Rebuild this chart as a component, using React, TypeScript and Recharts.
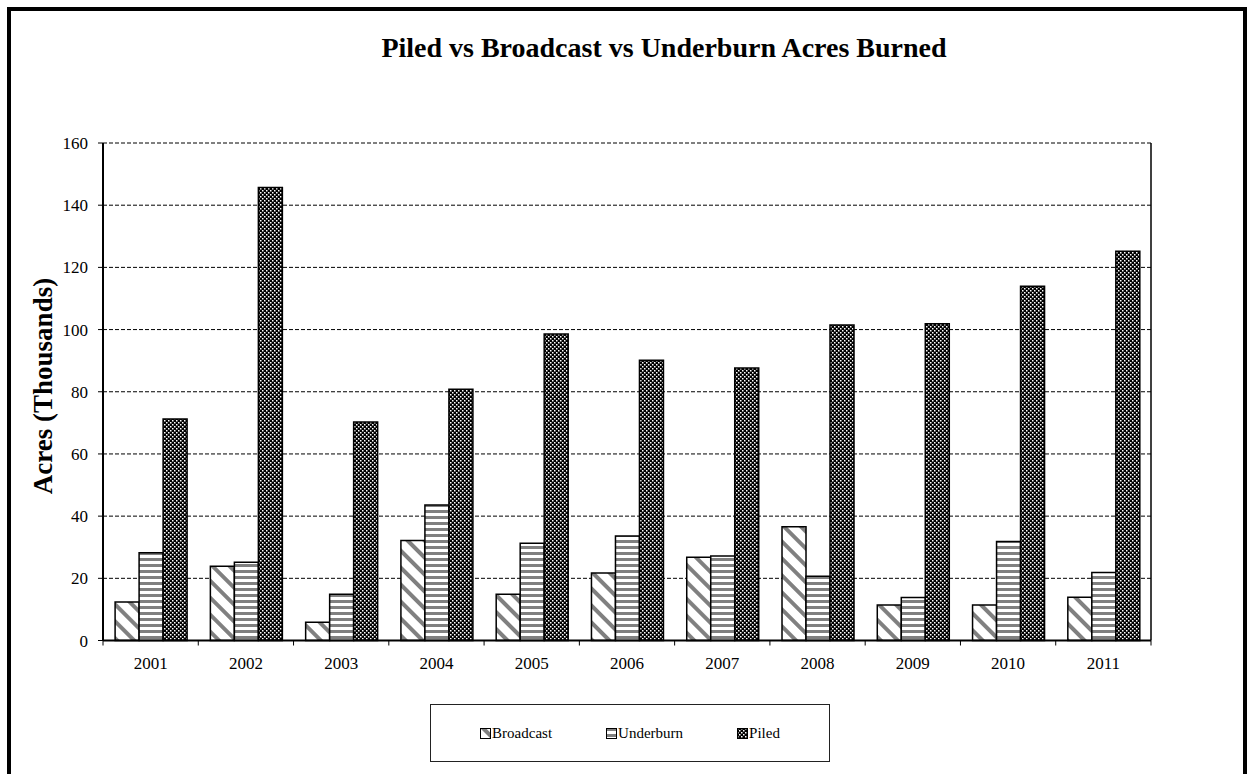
import React from 'react';
import { BarChart, Bar, XAxis, YAxis, CartesianGrid } from 'recharts';

const years = ['2001', '2002', '2003', '2004', '2005', '2006', '2007', '2008', '2009', '2010', '2011'];
const broadcast = [12.4, 23.9, 5.9, 32.2, 14.9, 21.7, 26.8, 36.6, 11.4, 11.4, 13.9];
const underburn = [28.2, 25.2, 14.9, 43.6, 31.3, 33.6, 27.2, 20.7, 13.8, 31.8, 21.9];
const piled = [71.2, 145.7, 70.3, 80.8, 98.6, 90.1, 87.6, 101.5, 101.9, 113.9, 125.2];
const yTicks = [0, 20, 40, 60, 80, 100, 120, 140, 160];

const seriesNames = ['Broadcast', 'Underburn', 'Piled'];
const seriesKeys = ['broadcast', 'underburn', 'piled'];

const data = years.map((year, i) => ({
  year,
  broadcast: broadcast[i],
  underburn: underburn[i],
  piled: piled[i],
}));

const FONT = '"Liberation Serif", "Times New Roman", serif';

const Patterns = ({ prefix }: { prefix: string }) => (
  <defs>
    <pattern id={`${prefix}-diag`} width="12" height="12" patternUnits="userSpaceOnUse" patternTransform="rotate(-45)">
      <rect width="12" height="12" fill="#fff" />
      <rect width="4" height="12" fill="#808080" />
    </pattern>
    <pattern id={`${prefix}-horiz`} width="6" height="6" patternUnits="userSpaceOnUse">
      <rect width="6" height="6" fill="#fff" />
      <rect width="6" height="3" fill="#808080" />
    </pattern>
    <pattern id={`${prefix}-check`} width="4" height="4" patternUnits="userSpaceOnUse">
      <rect width="4" height="4" fill="#000" />
      <rect x="0" y="0" width="1.5" height="1.5" fill="#fff" />
      <rect x="2" y="2" width="1.5" height="1.5" fill="#fff" />
    </pattern>
  </defs>
);

const fills = ['diag', 'horiz', 'check'];

// year label plus tick marks on the category boundaries (spreadsheet style)
const YearTick = (props: any) => {
  const { x, y, payload, index } = props;
  const half = payload?.offset ?? 0;
  const top = y - 16;
  return (
    <g>
      <line x1={x - half} x2={x - half} y1={top} y2={top + 5} stroke="#000" strokeWidth={1} />
      {index === years.length - 1 && (
        <line x1={x + half} x2={x + half} y1={top} y2={top + 5} stroke="#000" strokeWidth={1} />
      )}
      <text x={x} y={y} dy="0.71em" textAnchor="middle" fill="#000" fontFamily={FONT} fontSize={17}>
        {payload.value}
      </text>
    </g>
  );
};

const LegendBox = () => (
  <div
    style={{
      position: 'absolute',
      left: 430,
      top: 704,
      width: 400,
      height: 58,
      border: '1.5px solid #222',
      boxSizing: 'border-box',
      display: 'flex',
      alignItems: 'center',
      justifyContent: 'center',
      gap: 54,
      fontFamily: FONT,
      fontSize: 15,
    }}
  >
    {seriesNames.map((name, i) => (
      <div key={name} style={{ display: 'flex', alignItems: 'center' }}>
        <svg width="11" height="11" style={{ marginRight: 1 }}>
          <Patterns prefix={`lg${i}`} />
          <rect x="0.5" y="0.5" width="10" height="10" fill={`url(#lg${i}-${fills[i]})`} stroke="#000" strokeWidth="1" />
        </svg>
        <span>{name}</span>
      </div>
    ))}
  </div>
);

export default function App() {
  return (
    <div style={{ position: 'fixed', left: 0, top: 0, width: 1247, height: 774, background: '#fff', overflow: 'hidden' }}>
      <div
        style={{
          position: 'absolute',
          left: 7,
          top: 7,
          width: 1240,
          height: 800,
          border: '4px solid #000',
          boxSizing: 'border-box',
        }}
      />
      <div
        style={{
          position: 'absolute',
          left: 82,
          top: 32,
          width: 1164,
          textAlign: 'center',
          fontFamily: FONT,
          fontWeight: 'bold',
          fontSize: 28,
        }}
      >
        Piled vs Broadcast vs Underburn Acres Burned
      </div>
      <div
        style={{
          position: 'absolute',
          left: 43,
          top: 386,
          transform: 'translate(-50%, -50%) rotate(-90deg)',
          whiteSpace: 'nowrap',
          fontFamily: FONT,
          fontWeight: 'bold',
          fontSize: 27,
        }}
      >
        Acres (Thousands)
      </div>
      <div style={{ position: 'absolute', left: 0, top: 0 }}>
        <BarChart
          width={1247}
          height={774}
          data={data}
          margin={{ top: 143, right: 96, bottom: 103.5, left: 43 }}
          barCategoryGap="12.7%"
          barGap={0}
        >
          <Patterns prefix="bar" />
          <CartesianGrid horizontal vertical={false} stroke="#000" strokeDasharray="4 2" strokeWidth={1} />
          <CartesianGrid
            horizontal={false}
            vertical
            stroke="#000"
            strokeWidth={1.5}
            verticalCoordinatesGenerator={(p: any) => [p.offset.left + p.offset.width]}
          />
          <XAxis
            dataKey="year"
            height={30}
            axisLine={{ stroke: '#000', strokeWidth: 2 }}
            tickLine={false}
            tickMargin={10}
            tick={<YearTick />}
          />
          <YAxis
            width={60}
            domain={[0, 160]}
            ticks={yTicks}
            tickSize={5}
            tickMargin={10}
            tickLine={{ stroke: '#000', strokeWidth: 1 }}
            axisLine={{ stroke: '#000', strokeWidth: 2 }}
            tick={{ fill: '#000', fontFamily: FONT, fontSize: 17 }}
          />
          {seriesKeys.map((key, i) => (
            <Bar
              key={key}
              dataKey={key}
              name={seriesNames[i]}
              fill={`url(#bar-${fills[i]})`}
              stroke="#000"
              strokeWidth={1.5}
              isAnimationActive={false}
            />
          ))}
        </BarChart>
      </div>
      <LegendBox />
    </div>
  );
}
